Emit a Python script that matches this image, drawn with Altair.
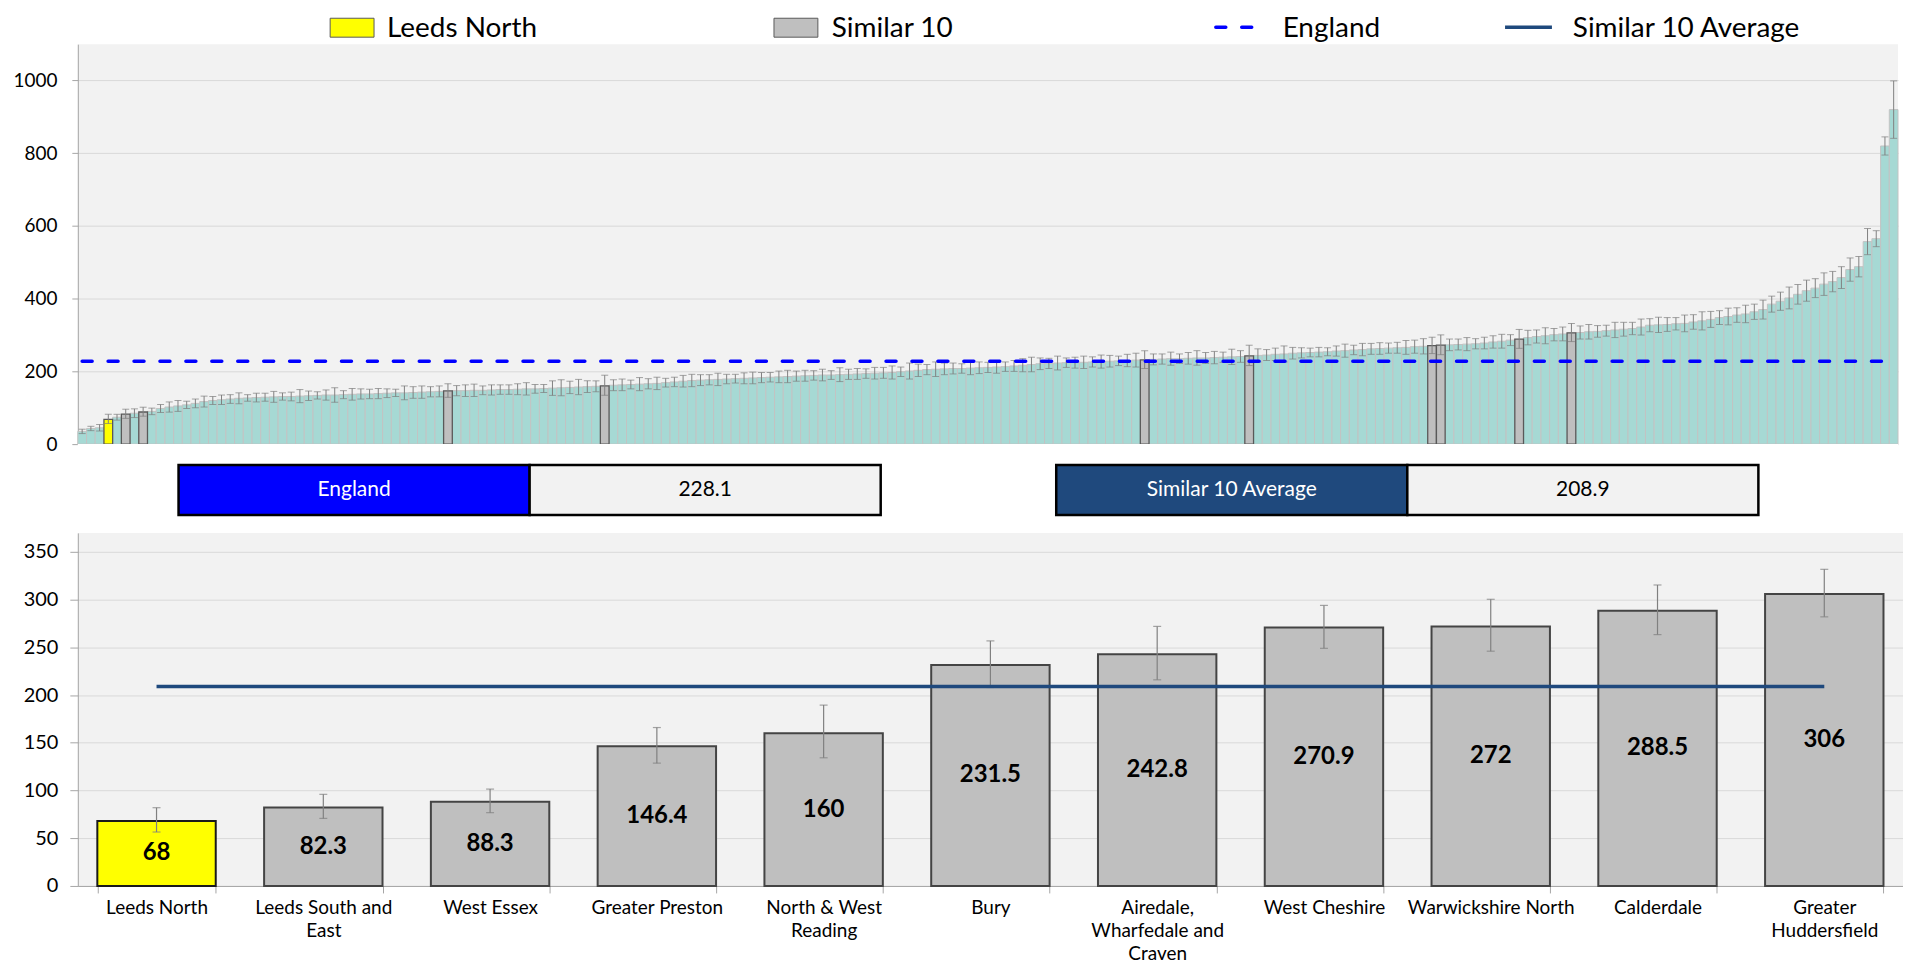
import altair as alt
import pandas as pd

# ------------------------------------------------------------------ data
# all CCGs, ranked (rate per 100,000)
top_values = [
    35, 43, 45, 68, 74, 82.3, 85, 88.3, 90, 98,
    102, 105, 108, 112, 117, 120, 122, 124, 126, 127,
    128, 129, 130, 131, 131, 132, 133, 134, 135, 135,
    136, 137, 138, 138, 139, 140, 141, 141, 142, 143,
    144, 145, 146.4, 147, 147, 148, 148, 149, 150, 150,
    151, 152, 152, 153, 154, 155, 156, 157, 158, 159,
    160, 162, 163, 164, 165, 166, 167, 169, 171, 173,
    175, 176, 177, 178, 179, 180, 181, 182, 183, 184,
    185, 186, 187, 188, 189, 190, 190, 191, 192, 193,
    194, 195, 196, 197, 199, 201, 203, 205, 206, 207,
    208, 208, 209, 210, 211, 212, 213, 215, 217, 219,
    221, 222, 223, 224, 224, 225, 226, 227, 228, 229,
    230, 231, 231.5, 233, 234, 235, 235, 236, 237, 237,
    238, 239, 240, 241, 242.8, 244, 245, 247, 248, 250,
    251, 252, 253, 254, 256, 257, 259, 260, 262, 263,
    264, 265, 266, 268, 269, 270.9, 272, 273, 274, 275,
    276, 278, 281, 283, 286, 288.5, 293, 296, 298, 301,
    303, 306, 307, 309, 310, 312, 314, 316, 318, 322,
    327, 328, 329, 331, 332, 336, 339, 343, 348, 351,
    355, 358, 364, 370, 385, 393, 402, 412, 422, 429,
    440, 447, 458, 480, 488, 557, 565, 820, 920,
]
# half-width of the confidence interval of each ranked CCG
top_err = [
    6, 6, 9, 13, 8, 13, 12, 12, 9, 11,
    14, 15, 10, 12, 15, 11, 13, 12, 15, 9,
    12, 11, 15, 10, 12, 18, 13, 10, 14, 20,
    11, 16, 14, 13, 14, 12, 10, 19, 16, 17,
    14, 15, 19, 14, 16, 17, 12, 14, 13, 13,
    15, 17, 12, 11, 20, 22, 17, 21, 16, 15,
    28, 15, 16, 12, 18, 14, 17, 12, 13, 16,
    17, 15, 14, 17, 13, 12, 15, 16, 14, 13,
    16, 17, 14, 15, 13, 16, 12, 19, 14, 15,
    13, 16, 15, 18, 13, 22, 17, 14, 20, 16,
    15, 13, 18, 16, 14, 17, 13, 15, 18, 20,
    16, 14, 19, 13, 15, 17, 14, 18, 16, 13,
    17, 19, 24, 15, 14, 18, 13, 16, 20, 15,
    17, 14, 21, 16, 28, 18, 15, 17, 22, 16,
    14, 12, 13, 11, 14, 18, 13, 17, 15, 16,
    14, 15, 19, 18, 21, 22, 27, 16, 15, 18,
    14, 16, 17, 19, 15, 26, 20, 18, 22, 17,
    19, 25, 18, 20, 16, 15, 21, 19, 17, 22,
    18, 21, 19, 17, 23, 20, 25, 22, 19, 23,
    20, 24, 21, 26, 22, 25, 30, 27, 29, 26,
    31, 28, 30, 32, 28, 36, 22, 25, 79,
]

similar_names = [
    "Leeds North", "Leeds South and East", "West Essex", "Greater Preston",
    "North & West Reading", "Bury", "Airedale, Wharfedale and Craven",
    "West Cheshire", "Warwickshire North", "Calderdale", "Greater Huddersfield",
]
similar_label_lines = [
    ["Leeds North"], ["Leeds South and", "East"], ["West Essex"], ["Greater Preston"],
    ["North & West", "Reading"], ["Bury"], ["Airedale,", "Wharfedale and", "Craven"],
    ["West Cheshire"], ["Warwickshire North"], ["Calderdale"], ["Greater", "Huddersfield"],
]
similar_values = [68, 82.3, 88.3, 146.4, 160, 231.5, 242.8, 270.9, 272, 288.5, 306]
similar_low = [56.5, 70.8, 76.8, 128.7, 134.3, 208, 216, 249, 246, 263.4, 282]
similar_high = [82, 96, 101.5, 166, 189.5, 256.8, 272, 294, 300.4, 315.4, 331.8]
similar_rank = [3, 5, 7, 42, 60, 122, 134, 155, 156, 165, 171]

ENGLAND = 228.1
SIMILAR_AVG = 208.9
legend_labels = ["Leeds North", "Similar 10", "England", "Similar 10 Average"]
box_labels = ["England", "Similar 10 Average"]
box_values = [ENGLAND, SIMILAR_AVG]

# ------------------------------------------------------------------ styling / layout
FONT = "Lato"
W = 1825
W_BOT = 1830
TOP_H = 401
BOX_H = 89
BOT_H = 354
LEG_H = 35
TEAL = "#a6d9d4"
GRID = "#d9d9d9"
AXISC = "#a6a6a6"
BLUE = "#0000ff"
NAVY = "#1f497d"

# ------------------------------------------------------------------ top chart
n = len(top_values)
lo = [v - e for v, e in zip(top_values, top_err)]
hi = [v + e for v, e in zip(top_values, top_err)]
kind = ["Other"] * n
for j, r in enumerate(similar_rank):
    lo[r] = similar_low[j]
    hi[r] = similar_high[j]
    kind[r] = "Leeds North" if j == 0 else "Similar 10"
top_df = pd.DataFrame({
    "rank": list(range(n)), "value": top_values, "lo": lo, "hi": hi,
    "kind": kind, "eng": [ENGLAND] * n,
})

x_top = alt.X("rank:O", scale=alt.Scale(domain=list(range(n)), paddingInner=0, paddingOuter=0), axis=None)
y_scale_top = alt.Scale(domain=[0, 1100], nice=False)
y_axis_top = alt.Axis(values=[0, 200, 400, 600, 800, 1000], format="d", title=None, grid=True,
                      gridColor=GRID, domainColor=AXISC, tickColor=AXISC, tickSize=6,
                      labelFontSize=19, labelPadding=15, minExtent=70, maxExtent=70,
                      labelColor="black")


def ytop(field):
    return alt.Y(field, type="quantitative", scale=y_scale_top, axis=y_axis_top)


tbase = alt.Chart(top_df)
teal_bars = tbase.transform_filter("datum.kind == 'Other'").mark_bar(
    fill=TEAL, stroke="#c3c3c3", strokeWidth=1).encode(x=x_top, y=ytop("value"))
hl_bars = tbase.transform_filter("datum.kind != 'Other'").mark_bar(
    stroke="#595959", strokeWidth=1.3).encode(
    x=x_top, y=ytop("value"),
    fill=alt.Fill("kind:N", scale=alt.Scale(domain=["Leeds North", "Similar 10"],
                                            range=["#ffff00", "#bfbfbf"]), legend=None))
t_err = tbase.mark_rule(color="#7f7f7f", strokeWidth=1).encode(x=x_top, y=ytop("lo"), y2="hi:Q")
t_cap_lo = tbase.mark_tick(color="#7f7f7f", thickness=1, size=7).encode(x=x_top, y=ytop("lo"))
t_cap_hi = tbase.mark_tick(color="#7f7f7f", thickness=1, size=7).encode(x=x_top, y=ytop("hi"))
eng_line = tbase.mark_line(color=BLUE, strokeWidth=3.5, strokeDash=[10, 16], strokeCap="round").encode(
    x=x_top, y=ytop("eng"))

top = alt.layer(teal_bars, hl_bars, t_err, t_cap_lo, t_cap_hi, eng_line).properties(
    width=W, height=TOP_H, view=alt.ViewBackground(fill="#f2f2f2", strokeWidth=0))

# ------------------------------------------------------------------ legend strip
LEG_BOX_X = [253, 698]
LEG_LINE_X = [1141, 1431]
LEG_TEXT_X = [310, 756, 1208, 1499]
LEG_BASE = 28
xs_leg = alt.Scale(domain=[0, W], nice=False, zero=False)
leg_box_df = pd.DataFrame({"label": legend_labels[:2], "x0": LEG_BOX_X,
                           "x1": [x + 44 for x in LEG_BOX_X], "fill": ["#ffff00", "#bfbfbf"]})
leg_line_df = pd.DataFrame({"label": legend_labels[2:], "x0": LEG_LINE_X,
                            "x1": [x + 47 for x in LEG_LINE_X]})
leg_text_df = pd.DataFrame({"label": legend_labels, "x": LEG_TEXT_X})

leg_boxes = alt.Chart(leg_box_df).mark_rect(stroke="#595959", strokeWidth=1).encode(
    x=alt.X("x0:Q", scale=xs_leg, axis=None), x2="x1:Q",
    y=alt.value(LEG_BASE - 19), y2=alt.value(LEG_BASE), fill=alt.Fill("fill:N", scale=None))
leg_dash = alt.Chart(leg_line_df).transform_filter("datum.label == 'England'").mark_rule(
    color=BLUE, strokeWidth=3.5, strokeDash=[10, 16], strokeCap="round").encode(
    x=alt.X("x0:Q", scale=xs_leg, axis=None), x2="x1:Q", y=alt.value(LEG_BASE - 10))
leg_solid = alt.Chart(leg_line_df).transform_filter("datum.label != 'England'").mark_rule(
    color=NAVY, strokeWidth=3.5).encode(
    x=alt.X("x0:Q", scale=xs_leg, axis=None), x2="x1:Q", y=alt.value(LEG_BASE - 10))
leg_text = alt.Chart(leg_text_df).mark_text(align="left", baseline="alphabetic", fontSize=28,
                                            color="black").encode(
    x=alt.X("x:Q", scale=xs_leg, axis=None), y=alt.value(LEG_BASE), text="label:N")
legend = alt.layer(leg_boxes, leg_dash, leg_solid, leg_text).properties(
    width=W, height=LEG_H, view=alt.ViewBackground(fill="white", strokeWidth=0))

# ------------------------------------------------------------------ value boxes
BOX_X0 = [101, 981]
CELL = 352
box_df = pd.DataFrame({
    "label": box_labels,
    "value": [f"{v:g}" for v in box_values],
    "fill": [BLUE, NAVY],
    "x0": BOX_X0,
    "xm": [x + CELL for x in BOX_X0],
    "x1": [x + 2 * CELL for x in BOX_X0],
})
box_df["xc_l"] = (box_df["x0"] + box_df["xm"]) / 2
box_df["xc_v"] = (box_df["xm"] + box_df["x1"]) / 2
xs_box = alt.Scale(domain=[0, W], nice=False, zero=False)
bb = alt.Chart(box_df)
b_lab = bb.mark_rect(stroke="black", strokeWidth=2.5).encode(
    x=alt.X("x0:Q", scale=xs_box, axis=None), x2="xm:Q", y=alt.value(21), y2=alt.value(71),
    fill=alt.Fill("fill:N", scale=None))
b_val = bb.mark_rect(stroke="black", strokeWidth=2.5, fill="#f2f2f2").encode(
    x=alt.X("xm:Q", scale=xs_box, axis=None), x2="x1:Q", y=alt.value(21), y2=alt.value(71))
b_lab_t = bb.mark_text(color="white", fontSize=21, baseline="middle").encode(
    x=alt.X("xc_l:Q", scale=xs_box, axis=None), y=alt.value(46), text="label:N")
b_val_t = bb.mark_text(color="black", fontSize=21, baseline="middle").encode(
    x=alt.X("xc_v:Q", scale=xs_box, axis=None), y=alt.value(46), text="value:N")
boxes = alt.layer(b_lab, b_val, b_lab_t, b_val_t).properties(
    width=W, height=BOX_H, view=alt.ViewBackground(fill="white", strokeWidth=0))

# ------------------------------------------------------------------ bottom chart
bot_df = pd.DataFrame({
    "name": similar_names,
    "label": ["|".join(l) for l in similar_label_lines],
    "value": similar_values,
    "lo": similar_low,
    "hi": similar_high,
    "kind": ["Leeds North"] + ["Similar 10"] * (len(similar_names) - 1),
    "text": [f"{v:g}" for v in similar_values],
    "avg": [SIMILAR_AVG] * len(similar_names),
})
bot_df["mid"] = bot_df["value"] / 2

x_bot = alt.X("label:N", sort=None,
              scale=alt.Scale(paddingInner=0.29, paddingOuter=0.117),
              axis=alt.Axis(title=None,
                            labelExpr="isValid(datum.value) ? split(datum.value, '|') : ''",
                            labelFontSize=19, labelLineHeight=23, labelPadding=6,
                            tickBand="extent", tickSize=7, tickColor=AXISC, domainColor=AXISC,
                            labelAngle=0, labelColor="black", labelLimit=400,
                            labelOverlap=False))
y_scale_bot = alt.Scale(domain=[0, 370], nice=False)
y_axis_bot = alt.Axis(values=[0, 50, 100, 150, 200, 250, 300, 350], title=None, grid=True,
                      gridColor=GRID, domainColor=AXISC, tickColor=AXISC, tickSize=8,
                      labelFontSize=20, labelPadding=12, minExtent=70, maxExtent=70,
                      labelColor="black")


def ybot(field):
    return alt.Y(field, type="quantitative", scale=y_scale_bot, axis=y_axis_bot)


bbase = alt.Chart(bot_df)
b_bars = bbase.mark_bar(strokeWidth=2).encode(
    x=x_bot, y=ybot("value"),
    fill=alt.Fill("kind:N", scale=alt.Scale(domain=["Leeds North", "Similar 10"],
                                            range=["#ffff00", "#c8c8c8"]), legend=None),
    stroke=alt.Stroke("kind:N", scale=alt.Scale(domain=["Leeds North", "Similar 10"],
                                                range=["#1a1a1a", "#444444"]), legend=None))
b_err = bbase.mark_rule(color="#808080", strokeWidth=1.2).encode(x=x_bot, y=ybot("lo"), y2="hi:Q")
b_cap_lo = bbase.mark_tick(color="#808080", thickness=1.2, size=8).encode(x=x_bot, y=ybot("lo"))
b_cap_hi = bbase.mark_tick(color="#808080", thickness=1.2, size=8).encode(x=x_bot, y=ybot("hi"))
b_avg = bbase.mark_line(color=NAVY, strokeWidth=3.5).encode(x=x_bot, y=ybot("avg"))
b_txt = bbase.mark_text(fontWeight="bold", fontSize=24, color="black", baseline="middle").encode(
    x=x_bot, y=ybot("mid"), text="text:N")

bottom = alt.layer(b_bars, b_err, b_cap_lo, b_cap_hi, b_avg, b_txt).properties(
    width=W_BOT, height=BOT_H, view=alt.ViewBackground(fill="#f2f2f2", strokeWidth=0))

# ------------------------------------------------------------------ assemble
chart = alt.vconcat(legend, top, boxes, bottom, spacing=0, bounds="flush").properties(
    padding=0, background="white"
).configure(font=FONT)

chart.save("out.html", embed_options={"renderer": "svg", "actions": False})
